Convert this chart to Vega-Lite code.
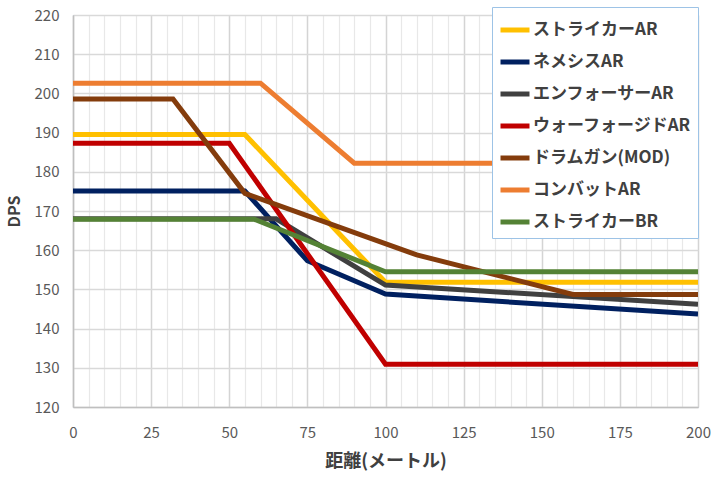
{
  "$schema": "https://vega.github.io/schema/vega-lite/v6.json",
  "width": 625,
  "height": 392,
  "autosize": {"type": "none"},
  "padding": {"left": 73, "top": 15, "right": 22, "bottom": 73},
  "background": "white",
  "config": {
    "view": {"stroke": "#8FB4E0", "strokeWidth": 1},
    "font": "Noto Sans CJK JP"
  },
  "data": {
    "values": [
      {"s": "ストライカーAR", "x": 0, "y": 189.5},
      {"s": "ストライカーAR", "x": 55, "y": 189.5},
      {"s": "ストライカーAR", "x": 100, "y": 151.8},
      {"s": "ストライカーAR", "x": 200, "y": 151.8},
      {"s": "ネメシスAR", "x": 0, "y": 175.1},
      {"s": "ネメシスAR", "x": 55, "y": 175.1},
      {"s": "ネメシスAR", "x": 75, "y": 157.3},
      {"s": "ネメシスAR", "x": 100, "y": 148.8},
      {"s": "ネメシスAR", "x": 200, "y": 143.7},
      {"s": "エンフォーサーAR", "x": 0, "y": 168},
      {"s": "エンフォーサーAR", "x": 65, "y": 168},
      {"s": "エンフォーサーAR", "x": 100, "y": 151.1},
      {"s": "エンフォーサーAR", "x": 200, "y": 146.2},
      {"s": "ウォーフォージドAR", "x": 0, "y": 187.3},
      {"s": "ウォーフォージドAR", "x": 50, "y": 187.3},
      {"s": "ウォーフォージドAR", "x": 100, "y": 130.9},
      {"s": "ウォーフォージドAR", "x": 200, "y": 130.9},
      {"s": "ドラムガン(MOD)", "x": 0, "y": 198.6},
      {"s": "ドラムガン(MOD)", "x": 32, "y": 198.6},
      {"s": "ドラムガン(MOD)", "x": 55, "y": 174.5},
      {"s": "ドラムガン(MOD)", "x": 110, "y": 158.8},
      {"s": "ドラムガン(MOD)", "x": 160, "y": 148.7},
      {"s": "ドラムガン(MOD)", "x": 200, "y": 148.7},
      {"s": "コンバットAR", "x": 0, "y": 202.6},
      {"s": "コンバットAR", "x": 60, "y": 202.6},
      {"s": "コンバットAR", "x": 90, "y": 182.2},
      {"s": "コンバットAR", "x": 200, "y": 182.2},
      {"s": "ストライカーBR", "x": 0, "y": 167.9},
      {"s": "ストライカーBR", "x": 58, "y": 167.9},
      {"s": "ストライカーBR", "x": 100, "y": 154.5},
      {"s": "ストライカーBR", "x": 200, "y": 154.5}
    ]
  },
  "mark": {"type": "line", "strokeWidth": 5, "strokeJoin": "miter", "strokeCap": "butt", "clip": true},
  "encoding": {
    "x": {
      "field": "x",
      "type": "quantitative",
      "scale": {"domain": [0, 200], "nice": false, "zero": false},
      "axis": {
        "title": "距離(メートル)",
        "values": [0,5,10,15,20,25,30,35,40,45,50,55,60,65,70,75,80,85,90,95,100,105,110,115,120,125,130,135,140,145,150,155,160,165,170,175,180,185,190,195,200],
        "labelExpr": "datum.value % 25 === 0 ? datum.label : ''",
        "grid": true,
        "gridColor": {"condition": {"test": "datum.value % 25 === 0", "value": "#D4D4D4"}, "value": "#E8E8E8"},
        "gridWidth": {"condition": {"test": "datum.value % 25 === 0", "value": 1.5}, "value": 1.2},
        "ticks": false,
        "domainColor": "#BFBFBF",
        "domainWidth": 1.5,
        "labelFontSize": 15,
        "labelColor": "#595959",
        "labelPadding": 18,
        "labelFlush": false,
        "titleFontSize": 18,
        "titleFontWeight": "bold",
        "titleColor": "#404040",
        "titlePadding": 12
      }
    },
    "y": {
      "field": "y",
      "type": "quantitative",
      "scale": {"domain": [120, 220], "nice": false, "zero": false},
      "axis": {
        "title": "DPS",
        "values": [120,130,140,150,160,170,180,190,200,210,220],
        "grid": true,
        "gridColor": "#D9D9D9",
        "gridWidth": 1.5,
        "ticks": false,
        "domainColor": "#BFBFBF",
        "domainWidth": 1.5,
        "labelFontSize": 15,
        "labelColor": "#595959",
        "labelPadding": 14,
        "labelFlush": false,
        "titleFontSize": 16,
        "titleFontWeight": "bold",
        "titleColor": "#404040",
        "titlePadding": 12
      }
    },
    "color": {
      "field": "s",
      "type": "nominal",
      "scale": {
        "domain": ["ストライカーAR", "ネメシスAR", "エンフォーサーAR", "ウォーフォージドAR", "ドラムガン(MOD)", "コンバットAR", "ストライカーBR"],
        "range": ["#FFC000", "#002060", "#404040", "#C00000", "#843C0C", "#ED7D31", "#548235"]
      },
      "legend": {
        "title": null,
        "orient": "none",
        "legendX": 419,
        "legendY": -8,
        "symbolType": "stroke",
        "symbolStrokeWidth": 5,
        "symbolSize": 841,
        "labelFontSize": 17,
        "labelFontWeight": "bold",
        "labelColor": "#404040",
        "labelOffset": 1,
        "rowPadding": 5,
        "padding": 6,
        "strokeColor": "#9DC3E6",
        "fillColor": "#FFFFFF",
        "labelLimit": 300
      }
    }
  }
}
